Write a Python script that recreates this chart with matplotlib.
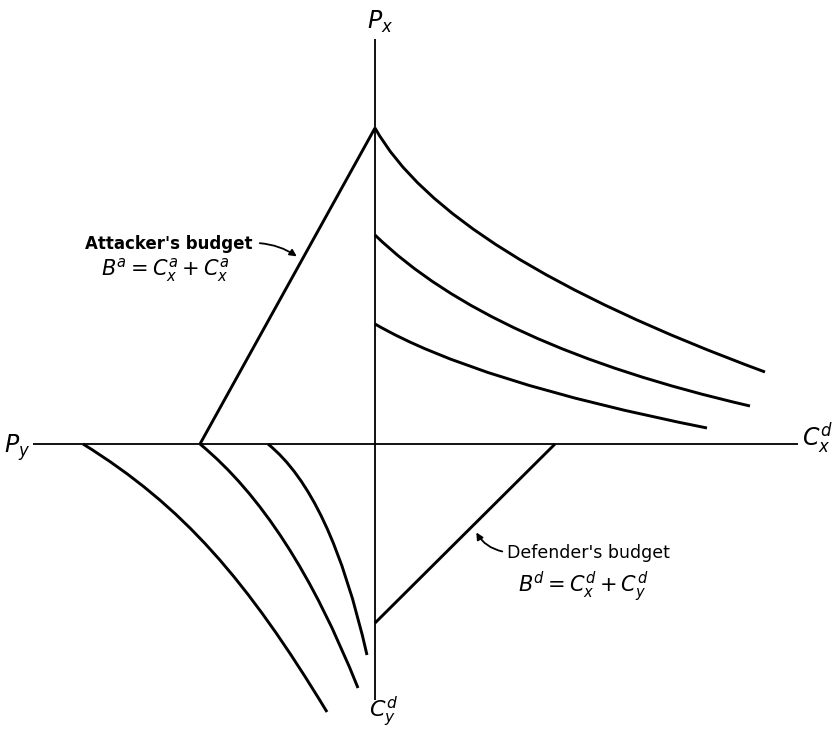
import matplotlib
matplotlib.use("Agg")
import matplotlib.pyplot as plt
from matplotlib.path import Path
from matplotlib.patches import PathPatch

# coordinates in a frame centred on the axes crossing (x right, y up)
axis_h = [(-342, 0), (423, 0)]
axis_v = [(0, 405), (0, -256)]

# 2 points = straight line, 3 = quadratic Bezier (start, control, end),
# 4 = cubic Bezier (start, control, control, end)
attacker_budget = [(0, 316), (-175, 0)]
defender_budget = [(180, 0), (0, -179)]

upper_1 = [(0, 316), (70, 190), (390, 72)]
upper_2 = [(0, 209), (114, 98), (375, 38)]
upper_3 = [(0, 120), (100, 62), (332, 16)]

lower_1 = [(-292, 0), (-192, -62), (-128, -136), (-48, -268)]
lower_2 = [(-175, 0), (-84, -75), (-17, -244)]
lower_3 = [(-107, 0), (-44, -51), (-8, -211)]

curves = [attacker_budget, defender_budget, upper_1, upper_2, upper_3,
          lower_1, lower_2, lower_3]

plt.rcParams['font.family'] = ['DejaVu Sans']
plt.rcParams['mathtext.fontset'] = 'dejavusans'

fig = plt.figure(figsize=(8.37, 7.33), dpi=100)
ax = fig.add_axes([0, 0, 1, 1])
ax.set_xlim(-375, 462)
ax.set_ylim(-289, 444)
ax.axis('off')

for pts in (axis_h, axis_v):
    xs, ys = zip(*pts)
    ax.plot(xs, ys, color='black', lw=1.3, solid_capstyle='butt')

codes_for = {2: [Path.MOVETO, Path.LINETO],
             3: [Path.MOVETO, Path.CURVE3, Path.CURVE3],
             4: [Path.MOVETO, Path.CURVE4, Path.CURVE4, Path.CURVE4]}
for pts in curves:
    path = Path(pts, codes_for[len(pts)])
    ax.add_patch(PathPatch(path, facecolor='none', edgecolor='black', lw=2.1,
                           capstyle='butt', joinstyle='miter'))

# axis labels
ax.text(5, 422, '$P_x$', fontsize=17, ha='center', va='center')
ax.text(-358, -4, '$P_y$', fontsize=17, ha='center', va='center')
ax.text(442, 6, '$C_x^d$', fontsize=17, ha='center', va='center')
ax.text(8, -268, '$C_y^d$', fontsize=16, ha='center', va='center')

# budget annotations
ax.text(-206, 200, "Attacker's budget", fontsize=12, fontweight='bold',
        ha='center', va='center')
ax.text(-210, 174, '$B^a = C_x^a + C_x^a$', fontsize=15, ha='center', va='center')
ax.annotate('', xy=(-76, 186), xytext=(-118, 201),
            arrowprops=dict(arrowstyle='-|>', color='black', lw=1.3,
                            mutation_scale=10, connectionstyle='arc3,rad=-0.15'))

ax.text(213, -109, "Defender's budget", fontsize=12.5, ha='center', va='center')
ax.text(208, -143, '$B^d = C_x^d + C_y^d$', fontsize=15, ha='center', va='center')
ax.annotate('', xy=(100, -86), xytext=(130, -108),
            arrowprops=dict(arrowstyle='-|>', color='black', lw=1.3,
                            mutation_scale=10, connectionstyle='arc3,rad=-0.25'))

fig.savefig('out.png', dpi=100)
